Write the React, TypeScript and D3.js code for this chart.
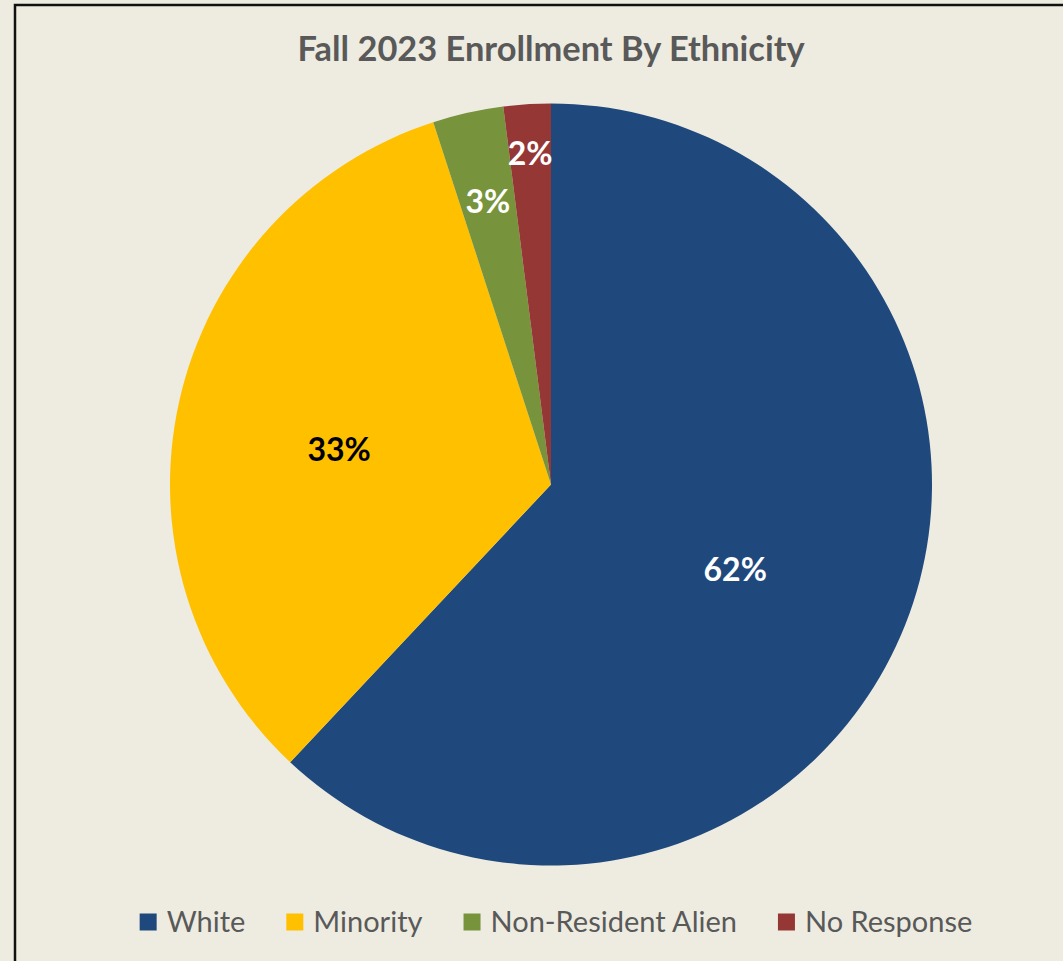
import { useEffect, useRef } from "react";
import { select, pie, arc, scaleOrdinal } from "d3";

const categories = ["White", "Minority", "Non-Resident Alien", "No Response"];
const shares = [62, 33, 3, 2];
const labels = ["62%", "33%", "3%", "2%"];
const colors = ["#1F497D", "#FFC000", "#77933C", "#953735"];
const labelColors = ["#ffffff", "#000000", "#ffffff", "#ffffff"];

const W = 1063;
const H = 961;
const FONT = "Lato, 'Open Sans', sans-serif";

export default function App() {
  const ref = useRef<SVGSVGElement | null>(null);

  useEffect(() => {
    if (!ref.current) return;
    const svg = select(ref.current);
    svg.selectAll("*").remove();

    // background + chart frame
    svg.append("rect").attr("width", W).attr("height", H).attr("fill", "#EEECE1");
    svg
      .append("rect")
      .attr("x", 15)
      .attr("y", 5)
      .attr("width", W + 20)
      .attr("height", H + 20)
      .attr("fill", "none")
      .attr("stroke", "#111")
      .attr("stroke-width", 2.5);

    // title
    svg
      .append("text")
      .attr("x", 551)
      .attr("y", 61)
      .attr("text-anchor", "middle")
      .attr("font-family", FONT)
      .attr("font-weight", 700)
      .attr("font-size", 34.4)
      .attr("fill", "#595959")
      .text("Fall 2023 Enrollment By Ethnicity");

    const cx = 551;
    const cy = 484.5;
    const R = 381;

    const color = scaleOrdinal<string, string>().domain(categories).range(colors);

    const arcs = pie<number>().sort(null).value((d) => d)(shares);
    const arcGen = arc<any>().innerRadius(0).outerRadius(R);

    const g = svg.append("g").attr("transform", `translate(${cx},${cy})`);

    g.selectAll("path.slice")
      .data(arcs)
      .enter()
      .append("path")
      .attr("class", "slice")
      .attr("d", arcGen)
      .attr("fill", (_, i) => color(categories[i]));

    // label distance: big slices near middle, thin slices pushed outward
    const labelFrac = (v: number) => (v >= 50 ? 0.52 : v >= 10 ? 0.57 : v >= 2.5 ? 0.76 : 0.87);

    g.selectAll("text.lbl")
      .data(arcs)
      .enter()
      .append("text")
      .attr("class", "lbl")
      .attr("transform", (d) => {
        const r = labelFrac(d.value) * R;
        const a = (d.startAngle + d.endAngle) / 2;
        const drop = d.value >= 10 ? 12 : 0;
        return `translate(${Math.sin(a) * r},${-Math.cos(a) * r + drop})`;
      })
      .attr("text-anchor", "middle")
      .attr("dy", "0.36em")
      .attr("font-family", FONT)
      .attr("font-weight", 700)
      .attr("font-size", 32)
      .attr("fill", (_, i) => labelColors[i])
      .text((_, i) => labels[i]);

    // legend
    const legend = svg.append("g").attr("transform", "translate(0,922)");
    let x = 0;
    const items = legend
      .selectAll("g.item")
      .data(categories)
      .enter()
      .append("g")
      .attr("class", "item");
    items
      .append("rect")
      .attr("y", -8.5)
      .attr("width", 17)
      .attr("height", 17)
      .attr("fill", (d) => color(d));
    items
      .append("text")
      .attr("x", 27)
      .attr("dy", "0.35em")
      .attr("font-family", FONT)
      .attr("font-size", 29)
      .attr("fill", "#595959")
      .text((d) => d);
    const widths: number[] = [];
    items.each(function () {
      widths.push((this as SVGGElement).getBBox().width);
    });
    const gap = 41;
    const total = widths.reduce((a, b) => a + b, 0) + gap * (widths.length - 1);
    x = 556 - total / 2;
    items.attr("transform", (_, i) => {
      const t = `translate(${x},0)`;
      x += widths[i] + gap;
      return t;
    });
  }, []);

  return (
    <svg
      ref={ref}
      width={W}
      height={H}
      style={{ position: "absolute", left: 0, top: 0, display: "block" }}
    />
  );
}
